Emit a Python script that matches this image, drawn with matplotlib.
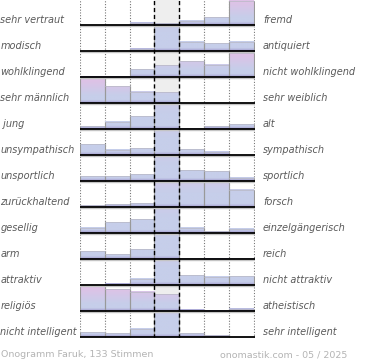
import numpy as np
import matplotlib
matplotlib.use("Agg")
import matplotlib.pyplot as plt

# Semantic differential for "Faruk" (133 votes)
left_labels = ["sehr vertraut", "modisch", "wohlklingend", "sehr männlich", " jung",
               "unsympathisch", "unsportlich", "zurückhaltend", "gesellig", "arm",
               "attraktiv", "religiös", "nicht intelligent"]
right_labels = ["fremd", "antiquiert", "nicht wohlklingend", "sehr weiblich", "alt",
                "sympathisch", "sportlich", "forsch", "einzelgängerisch", "reich",
                "nicht attraktiv", "atheistisch", "sehr intelligent"]

# bar heights per row, 100 = full row height (larger values are clipped)
values = [
    [0, 0, 10, 8, 18, 31, 98],
    [0, 4, 9, 260, 37, 31, 37],
    [1, 1, 31, 47, 63, 49, 95],
    [100, 68, 45, 43, 0, 0, 0],
    [12, 28, 52, 220, 4, 12, 20],
    [43, 21, 27, 240, 23, 13, 0],
    [20, 20, 28, 230, 44, 40, 14],
    [8, 12, 16, 190, 130, 125, 70],
    [21, 43, 56, 230, 21, 8, 18],
    [32, 19, 40, 260, 4, 2, 4],
    [0, 6, 26, 250, 40, 33, 36],
    [100, 88, 77, 68, 6, 2, 10],
    [20, 16, 33, 250, 16, 7, 0],
]

footer_left = "Onogramm Faruk, 133 Stimmen"
footer_right = "onomastik.com - 05 / 2025"

W, H = 370, 360
ROW_PX = 26
FULL = 25 / 26.0  # full bar height in row units

fig = plt.figure(figsize=(W / 100, H / 100), dpi=100)
ax = fig.add_axes([80 / W, (H - 338) / H, 175 / W, 338 / H])
nrows = len(values)

blue = np.array([198, 206, 234]) / 255
pink = np.array([222, 194, 230]) / 255
purple = np.array([150, 138, 196]) / 255


def grad_colors(h, span, n=80):
    y = np.linspace(0, h, n)
    f = y / span
    t = np.clip((f - 0.3) / 0.6, 0, 1)[:, None]
    col = blue * (1 - t) + pink * t
    px = y * ROW_PX
    b = np.clip(1 - px / 3.0, 0, 1)[:, None] * 0.8
    col = col * (1 - b) + purple * b
    return col[:, None, :]


ax.axvspan(3, 4, color="#eeeeee", zorder=0)
for xv in [0, 1, 2, 5, 6, 7]:
    ax.axvline(xv, color="#777777", linestyle=(0, (1, 1.5)), lw=0.8, zorder=1)

for i, row in enumerate(values):
    base = nrows - 1 - i
    span = max(100, max(row))
    for j, v in enumerate(row):
        if v <= 0:
            continue
        h = min(v, 100) / 100 * FULL
        ax.imshow(grad_colors(h, span / 100 * FULL), extent=[j, j + 1, base, base + h],
                  origin="lower", aspect="auto", interpolation="bilinear", zorder=2)
        ax.plot([j, j], [base, base + h], color="#999999", lw=0.8, zorder=3)
        ax.plot([j + 1, j + 1], [base, base + h], color="#999999", lw=0.8, zorder=3)
        ax.plot([j, j + 1], [base + h, base + h], color="#b8b8c4", lw=0.5, zorder=3)
    ax.plot([0, 7.03], [base - 1.3 / ROW_PX] * 2, color="#c4c4c4", lw=1.0, zorder=4)
    ax.plot([0, 7.03], [base, base], color="black", lw=1.3, zorder=5)

    ypx = 26 * i + 25 - 1.6
    fig.text(0.5 / W, 1 - ypx / H, left_labels[i], ha="left", va="baseline",
             fontsize=7, style="italic", color="#5a5a5a")
    fig.text(263 / W, 1 - ypx / H, right_labels[i], ha="left", va="baseline",
             fontsize=7, style="italic", color="#5a5a5a")

for xv in [3, 4]:
    ax.axvline(xv, color="black", linestyle=(0, (3, 2)), lw=1.0, zorder=6)

ax.set_xlim(0, 7.05)
ax.set_ylim(-1 / ROW_PX, nrows - 1 / ROW_PX)
ax.axis("off")

fig.text(1 / W, 1 - 357 / H, footer_left, ha="left", va="baseline", fontsize=6.8,
         color="#b4b4b4")
fig.text(347 / W, 1 - 357 / H, footer_right, ha="right", va="baseline", fontsize=6.8,
         color="#b4b4b4")

fig.savefig("out.png", dpi=100)
